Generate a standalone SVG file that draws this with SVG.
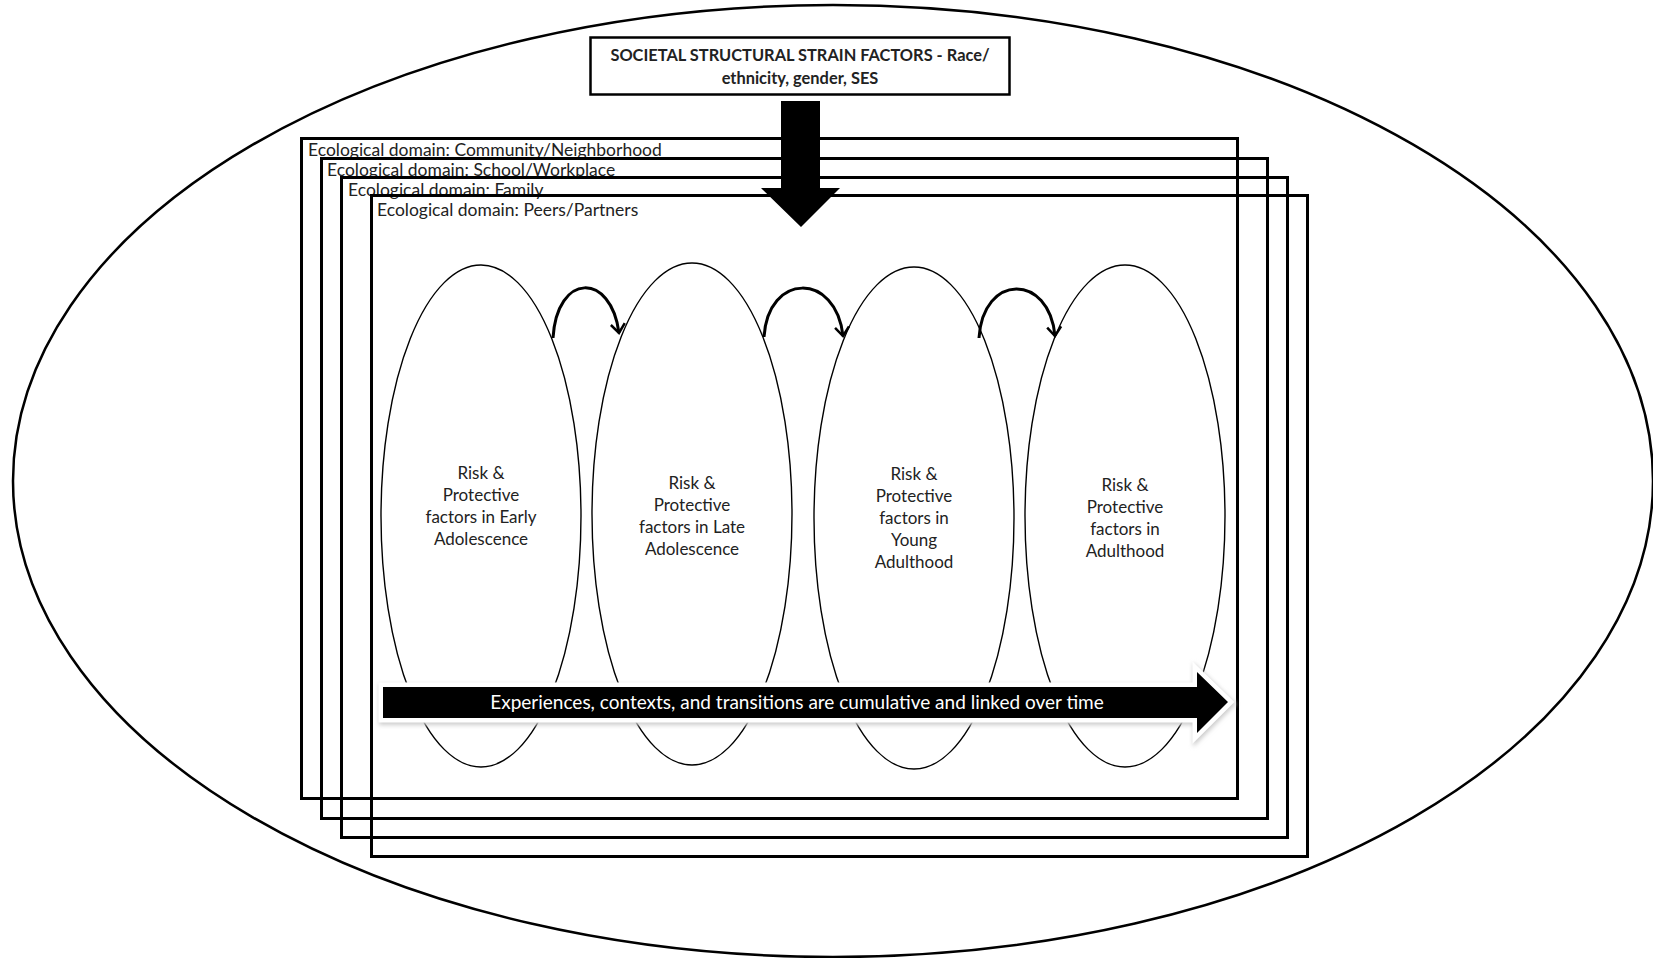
<svg xmlns="http://www.w3.org/2000/svg" width="1653" height="958" viewBox="0 0 1653 958">
<style>
.lbl{font-family:Lato,"Open Sans","Liberation Sans",sans-serif;fill:#222;}
.dom{font-size:17.5px;}
.stage{font-size:17px;text-anchor:middle;}
.title{font-size:16.4px;font-weight:bold;text-anchor:middle;}
.rect{fill:none;stroke:#000;stroke-width:3;}
.stg{fill:none;stroke:#000;stroke-width:1.4;}
.arc{fill:none;stroke:#000;stroke-width:3;}
</style>
<defs>
<marker id="chev" viewBox="-12 -10 14 20" markerWidth="14" markerHeight="20" refX="0" refY="0" orient="auto" markerUnits="userSpaceOnUse">
<path d="M -9 -7 L 0 0 L -9 7" fill="none" stroke="#000" stroke-width="2.5"/>
</marker>
<filter id="soft" x="-5%" y="-50%" width="110%" height="200%">
<feGaussianBlur stdDeviation="2"/>
</filter>
</defs>
<rect width="1653" height="958" fill="#fff"/>
<g id="outer-society">
<ellipse cx="833" cy="481" rx="820" ry="476" fill="none" stroke="#000" stroke-width="2.5"/>
</g>
<g id="domain-community">
<rect class="rect" x="301.5" y="138.5" width="936" height="660"/>
<text class="lbl dom" x="308" y="156">Ecological domain: Community/Neighborhood</text>
</g>
<g id="domain-school">
<rect class="rect" x="321.5" y="158.5" width="946" height="660"/>
<text class="lbl dom" x="327" y="176">Ecological domain: School/Workplace</text>
</g>
<g id="domain-family">
<rect class="rect" x="341.5" y="177.5" width="946" height="660"/>
<text class="lbl dom" x="348" y="196">Ecological domain: Family</text>
</g>
<g id="domain-peers">
<rect class="rect" x="371.5" y="195.5" width="936" height="661"/>
<text class="lbl dom" x="377" y="216">Ecological domain: Peers/Partners</text>
</g>
<g id="stage-early">
<ellipse class="stg" cx="481" cy="516" rx="100" ry="251"/>
<text class="lbl stage"><tspan x="481" y="479">Risk &amp;</tspan><tspan x="481" y="501">Protective</tspan><tspan x="481" y="523">factors in Early</tspan><tspan x="481" y="545">Adolescence</tspan></text>
</g>
<g id="stage-late">
<ellipse class="stg" cx="692" cy="514" rx="100" ry="251"/>
<text class="lbl stage"><tspan x="692" y="489">Risk &amp;</tspan><tspan x="692" y="511">Protective</tspan><tspan x="692" y="533">factors in Late</tspan><tspan x="692" y="555">Adolescence</tspan></text>
</g>
<g id="stage-young">
<ellipse class="stg" cx="914" cy="518" rx="100" ry="251"/>
<text class="lbl stage"><tspan x="914" y="480">Risk &amp;</tspan><tspan x="914" y="502">Protective</tspan><tspan x="914" y="524">factors in</tspan><tspan x="914" y="546">Young</tspan><tspan x="914" y="568">Adulthood</tspan></text>
</g>
<g id="stage-adult">
<ellipse class="stg" cx="1125" cy="516" rx="100" ry="251"/>
<text class="lbl stage"><tspan x="1125" y="491">Risk &amp;</tspan><tspan x="1125" y="513">Protective</tspan><tspan x="1125" y="535">factors in</tspan><tspan x="1125" y="557">Adulthood</tspan></text>
</g>
<g id="strain-box">
<rect x="590.5" y="37.5" width="419" height="57" fill="#fff" stroke="#000" stroke-width="2.5"/>
<text class="lbl title"><tspan x="800" y="61">SOCIETAL STRUCTURAL STRAIN FACTORS - Race/</tspan><tspan x="800" y="84">ethnicity, gender, SES</tspan></text>
</g>
<g id="connectors">
<polygon points="781,101 820,101 820,188 840,188 801,227 761,188 781,188" fill="#000"/>
<path class="arc" d="M 553 338 C 557 272, 611 272, 619 333" marker-end="url(#chev)"/>
<path class="arc" d="M 764 337 C 768 272, 836 272, 843 336" marker-end="url(#chev)"/>
<path class="arc" d="M 979 338 C 983 273, 1049 273, 1055 336" marker-end="url(#chev)"/>
<polygon points="383,687 1197,687 1197,672 1228,702 1197,733 1197,718 383,718" fill="#bbb" stroke="#ccc" stroke-width="10" stroke-linejoin="miter" filter="url(#soft)" transform="translate(1,2)"/>
<polygon points="383,687 1197,687 1197,672 1228,702 1197,733 1197,718 383,718" fill="#000" stroke="#fff" stroke-width="9" stroke-linejoin="miter"/>
<polygon points="383,687 1197,687 1197,672 1228,702 1197,733 1197,718 383,718" fill="#000"/>
<text class="lbl" x="797" y="709" font-size="19" text-anchor="middle" style="fill:#fff">Experiences, contexts, and transitions are cumulative and linked over time</text>
</g>
</svg>
